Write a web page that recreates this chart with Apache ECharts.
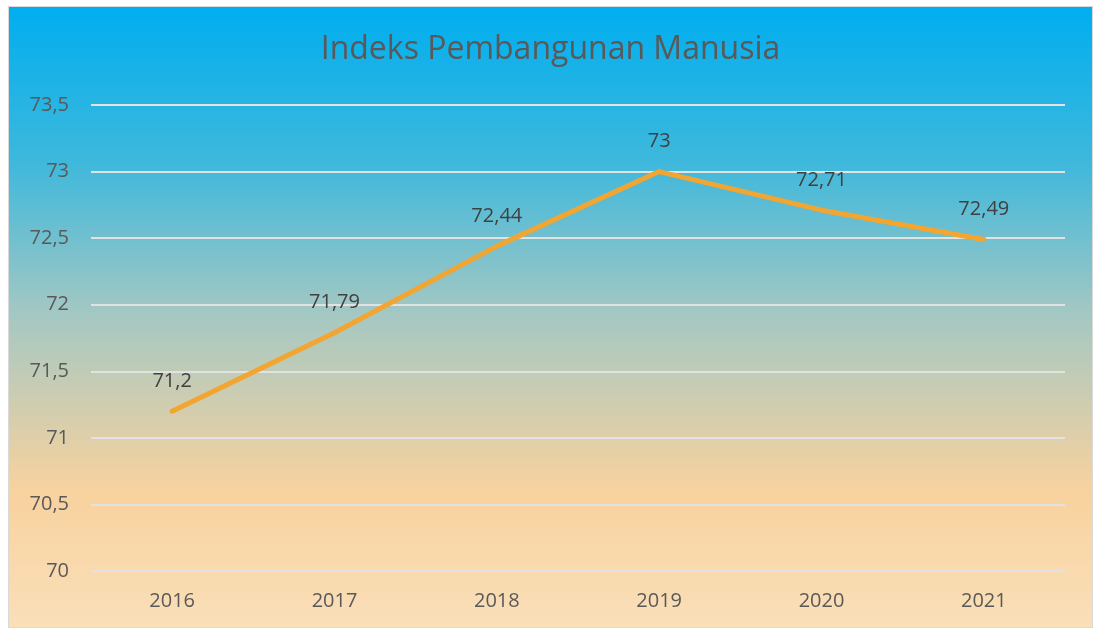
<!DOCTYPE html>
<html>
<head>
<meta charset="utf-8">
<script src="https://cdn.jsdelivr.net/npm/echarts@6/dist/echarts.min.js"></script>
<style>
  html, body { margin: 0; padding: 0; background: #fff; }
  #box1 {
    position: absolute; left: 8px; top: 6px;
    width: 1085px; height: 622px;
    border: 1px solid #D9D9D9; box-sizing: border-box;
  }
</style>
</head>
<body>
<div id="box1"></div>
<script>
var years = ['2016', '2017', '2018', '2019', '2020', '2021']
var ipm = [71.2, 71.79, 72.44, 73, 72.71, 72.49]

function koma(v) {
    return String(v).replace('.', ',')
}

var chart = echarts.init(document.getElementById('box1'))
var option = {
    backgroundColor: {
        type: 'linear', x: 0, y: 0, x2: 0, y2: 1,
        colorStops: [
            { offset: 0, color: '#00AEEF' },
            { offset: 0.25, color: '#3EB8DC' },
            { offset: 0.5, color: '#A6C8C2' },
            { offset: 0.78, color: '#F8D29E' },
            { offset: 1, color: '#FADFB9' }
        ]
    },
    title: {
        text: 'Indeks Pembangunan Manusia',
        left: 'center',
        top: 22,
        textStyle: {
            fontFamily: 'Open Sans',
            fontSize: 32,
            fontWeight: 'normal',
            color: '#595959'
        }
    },
    grid: {
        left: 82,
        right: 27,
        top: 98,
        bottom: 56
    },
    xAxis: {
        type: 'category',
        data: years,
        boundaryGap: true,
        axisLine: { show: false },
        axisTick: { show: false },
        axisLabel: {
            margin: 20,
            fontFamily: 'Open Sans',
            fontSize: 20,
            color: '#595959'
        }
    },
    yAxis: {
        type: 'value',
        min: 70,
        max: 73.5,
        interval: 0.5,
        axisLabel: {
            margin: 22,
            fontFamily: 'Open Sans',
            fontSize: 20,
            color: '#595959',
            formatter: koma
        },
        splitLine: {
            lineStyle: { color: '#E2E2E2', width: 2 }
        }
    },
    series: [
        {
            name: 'IPM',
            type: 'line',
            data: ipm,
            symbol: 'circle',
            symbolSize: 4,
            showSymbol: true,
            lineStyle: { color: '#F2A531', width: 5, cap: 'round' },
            itemStyle: { color: '#F2A531' },
            label: {
                show: true,
                position: 'top',
                distance: 18,
                fontFamily: 'Open Sans',
                fontSize: 20,
                color: '#404040',
                formatter: function (p) { return koma(p.value) }
            }
        }
    ]
}
chart.setOption(option)
</script>
</body>
</html>
